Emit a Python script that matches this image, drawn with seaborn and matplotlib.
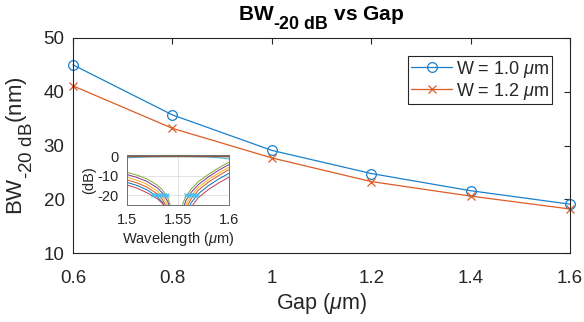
import numpy as np
import pandas as pd
import matplotlib
matplotlib.use("Agg")
import matplotlib.pyplot as plt
import matplotlib._mathtext as _mt
import seaborn as sns

# ---------------- data ----------------
gap = [0.6, 0.8, 1.0, 1.2, 1.4, 1.6]
bw_w10 = [45.0, 35.7, 29.1, 24.8, 21.6, 19.1]
bw_w12 = [41.1, 33.2, 27.7, 23.3, 20.6, 18.2]
labels = ["W = 1.0 $\\mu$m", "W = 1.2 $\\mu$m"]

# inset spectra (drop responses), values in dB
wl = [1.500, 1.510, 1.520, 1.530, 1.535, 1.540, 1.543, 1.549,
      1.555, 1.558, 1.563, 1.570, 1.580, 1.590, 1.600]
sp_green = [-8.2, -9.6, -11.6, -14.8, -17.2, -21.0, -25.5, -60, -24.0, -20.5, -16.8, -13.0, -9.2, -5.9, -3.0]
sp_purple = [-9.3, -10.8, -12.9, -16.2, -18.8, -23.0, -28.0, -60, -27.0, -22.5, -18.5, -14.5, -10.5, -7.1, -4.2]
sp_yellow = [-10.7, -12.2, -14.4, -17.8, -20.5, -25.0, -31.0, -60, -30.0, -24.5, -20.2, -16.0, -11.9, -8.5, -5.6]
sp_orange = [-12.0, -13.6, -15.8, -19.3, -22.2, -27.0, -33.0, -60, -33.0, -26.5, -21.8, -17.4, -13.2, -9.8, -6.8]
sp_blue = [-13.3, -14.9, -17.2, -20.8, -23.6, -28.5, -35.0, -60, -36.0, -29.0, -23.8, -19.2, -15.0, -11.6, -8.7]
sp_red = [-14.6, -16.3, -18.7, -21.8, -24.2, -28.0, -37.0, -60, -40.0, -32.0, -26.0, -21.2, -17.0, -13.6, -10.7]
thru_wl = [1.500, 1.510, 1.520, 1.535, 1.549, 1.565, 1.580, 1.590, 1.600]
thru_brown = [-0.1, -0.05, 0.0, 0.0, 0.0, 0.0, 0.0, -0.05, -0.1]
thru_teal = [-0.8, -0.5, -0.3, -0.15, -0.1, -0.15, -0.35, -0.7, -1.3]
cross_wl = [1.5255, 1.5283, 1.5312, 1.5342, 1.5365, 1.5395,
            1.5581, 1.5608, 1.5633, 1.5655, 1.5677, 1.5690]
cross_db = [-20] * 12

# ---------------- style ----------------
sns.set_style("white")
plt.rcParams["font.family"] = ["Liberation Sans", "DejaVu Sans"]
plt.rcParams["mathtext.fontset"] = "custom"
plt.rcParams["mathtext.rm"] = "Liberation Sans"
plt.rcParams["mathtext.it"] = "Liberation Sans:italic"
plt.rcParams["mathtext.bf"] = "Liberation Sans:bold"
plt.rcParams["axes.unicode_minus"] = False
_mt.SHRINK_FACTOR = 0.85  # MATLAB-like larger subscripts
_mt.FontConstantsBase.sub1 = 0.9
_mt.FontConstantsBase.subdrop = 0.9

ml_blue = "#1a80cc"
ml_orange = "#dd5c24"
in_blue = "#0072BD"
in_orange = "#D95319"
ml_yellow = "#EDB120"
ml_purple = "#7E2F8E"
ml_green = "#77AC30"
ml_cyan = "#4DBEEE"
ml_red = "#C23B50"
axc = "#262626"

fig = plt.figure(figsize=(5.84, 3.22), dpi=100)
ax = fig.add_axes([0.125, 0.214, 0.851, 0.668])

sns.lineplot(x=gap, y=bw_w10, ax=ax, color=ml_blue, lw=0.9, marker="o",
             markersize=7, mfc="none", mec=ml_blue, mew=0.9, label=labels[0],
             clip_on=False)
sns.lineplot(x=gap, y=bw_w12, ax=ax, color=ml_orange, lw=0.9, marker="x",
             markersize=6, mec=ml_orange, mew=0.9, label=labels[1],
             clip_on=False)

ax.set_xlim(0.6, 1.6)
ax.set_ylim(10, 50)
ax.set_xticks([0.6, 0.8, 1.0, 1.2, 1.4, 1.6])
ax.set_xticklabels(["0.6", "0.8", "1", "1.2", "1.4", "1.6"])
ax.set_yticks([10, 20, 30, 40, 50])
ax.tick_params(direction="in", length=4, width=0.8, colors=axc, labelsize=13.5,
               top=True, right=True)
ax.tick_params(axis="x", pad=12)
ax.tick_params(axis="y", pad=6)
for s in ax.spines.values():
    s.set_color(axc)
    s.set_linewidth(0.8)
ax.set_xlabel("Gap ($\\mu$m)", fontsize=15.5, color=axc, labelpad=3)
ax.set_ylabel("BW$_{\\mathrm{\u201020\\ dB}}$(nm)", fontsize=16, color=axc, labelpad=6)
ax.set_title("BW$_{\\mathbf{\u201020\\ dB}}$ vs Gap", fontsize=15, fontweight="bold",
             color="black", pad=13)

leg = ax.legend(loc="upper right", fontsize=13, frameon=True, fancybox=False,
                edgecolor=axc, framealpha=1, borderpad=0.15, labelspacing=0.05,
                handlelength=2.3, handletextpad=0.2, borderaxespad=1.0)
leg.get_frame().set_linewidth(0.8)

# ---------------- inset ----------------
axin = fig.add_axes([0.217, 0.363, 0.175, 0.155])
for vals, col in [(sp_green, ml_green), (sp_purple, ml_purple), (sp_yellow, ml_yellow),
                  (sp_orange, in_orange), (sp_blue, in_blue), (sp_red, ml_red)]:
    sns.lineplot(x=wl, y=vals, ax=axin, color=col, lw=0.7)
sns.lineplot(x=thru_wl, y=thru_teal, ax=axin, color=ml_cyan, lw=0.8)
sns.lineplot(x=thru_wl, y=thru_brown, ax=axin, color="#8B5A3C", lw=1.2)
axin.plot(cross_wl[:6], cross_db[:6], color=ml_cyan, lw=1.5, marker="x",
          markersize=3, mew=0.8)
axin.plot(cross_wl[6:], cross_db[6:], color=ml_cyan, lw=1.5, marker="x",
          markersize=3, mew=0.8)

axin.set_xlim(1.5, 1.6)
axin.set_ylim(-25, 0.6)
axin.set_xticks([1.5, 1.55, 1.6])
axin.set_xticklabels(["1.5", "1.55", "1.6"])
axin.set_yticks([-20, -10, 0])
axin.grid(True, color="#dedede", lw=0.6)
axin.tick_params(direction="in", length=2, width=0.6, colors=axc, labelsize=10.5)
axin.tick_params(axis="x", pad=6)
axin.tick_params(axis="y", pad=6)
for s in axin.spines.values():
    s.set_color("#707070")
    s.set_linewidth(0.7)
axin.set_xlabel("Wavelength ($\\mu$m)", fontsize=10.5, color=axc, labelpad=2)
axin.set_ylabel("(dB)", fontsize=10.5, color=axc, labelpad=1)

fig.savefig("out.png", dpi=100)
